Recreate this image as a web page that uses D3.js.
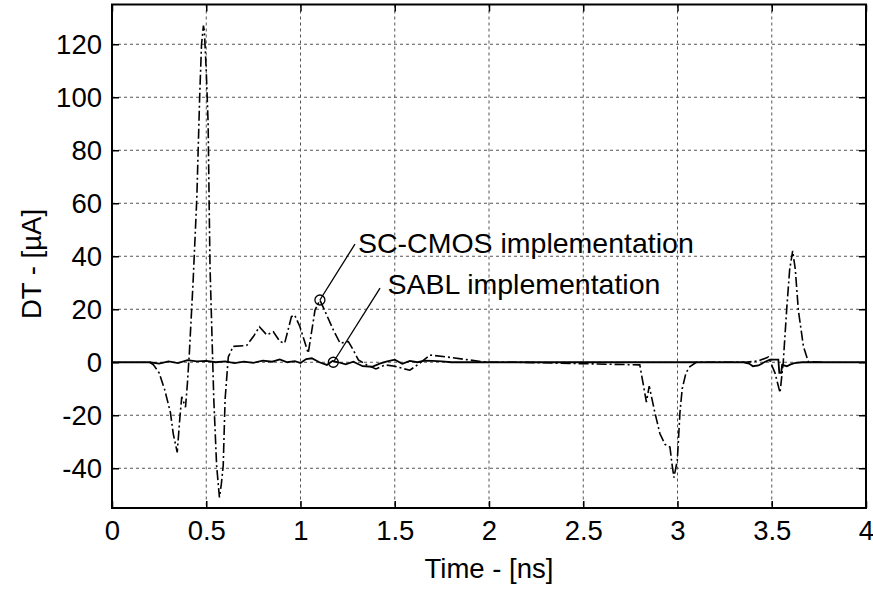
<!DOCTYPE html>
<html>
<head>
<meta charset="utf-8">
<script src="https://cdn.jsdelivr.net/npm/d3@7"></script>
<style>
  body { margin: 0; background: #fff; }
  svg text { font-family: "Liberation Sans", Arial, Helvetica, sans-serif; font-size: 27.5px; fill: #000; }
</style>
</head>
<body>
<svg id="graph" width="873" height="594"></svg>
<script>
// Chart data

var xTicks = [0, 0.5, 1, 1.5, 2, 2.5, 3, 3.5, 4];
var yTicks = [-40, -20, 0, 20, 40, 60, 80, 100, 120];

// SC-CMOS implementation (dash-dot)
var scTime = [0.20, 0.22, 0.25, 0.28, 0.31, 0.325, 0.346, 0.36, 0.37, 0.38, 0.39, 0.40, 0.41, 0.43, 0.45, 0.465, 0.475, 0.485, 0.49, 0.50,
              0.51, 0.515, 0.52, 0.53, 0.54, 0.555, 0.57, 0.58, 0.59, 0.60, 0.617, 0.643, 0.714, 0.75, 0.782, 0.821, 0.856, 0.891, 0.916, 0.952,
              0.969, 0.997, 1.041, 1.077, 1.103, 1.139, 1.174, 1.21, 1.254, 1.28, 1.307, 1.351, 1.40, 1.45, 1.50, 1.55, 1.58, 1.62, 1.687, 1.775,
              1.88, 1.99, 2.15, 2.80, 2.82, 2.835, 2.85, 2.88, 2.907, 2.934, 2.96, 2.97, 2.981, 2.999, 3.013, 3.025, 3.045, 3.066, 3.10, 3.146,
              3.358, 3.43, 3.482, 3.517, 3.544, 3.561, 3.579, 3.595, 3.611, 3.625, 3.641, 3.668, 3.694, 3.765];
var scValue = [0, -1, -4, -10.5, -19, -27, -34, -21, -13, -15, -17, -8, 3, 30, 62, 100, 120, 127, 125, 110,
               90, 62, 36, 11, -14, -39, -51, -46, -39, -14, 2, 6, 6.3, 9.7, 13.4, 10.3, 11.5, 7.8, 7.2, 17.2,
               17.8, 13.4, 3.4, 19.7, 23.5, 17.8, 12.2, 7.2, 7.8, 4.6, 0.9, -1, -2.5, -1, -1.5, -2.5, -3, -1, 2.7, 2,
               1, 0, 0, -1, -9, -15, -9, -19, -27, -31, -32, -38, -43.5, -37, -19, -10, -4, -1.6, 0, 0,
               0, 0.5, 2, -4, -11.5, 0, 19.7, 35, 42, 35, 19.7, 6, 0.2, 0];

// SABL implementation (solid)
var sablTime = [0, 0.2, 0.25, 0.3, 0.35, 0.4, 0.45, 0.5, 0.55, 0.6, 0.65, 0.7, 0.75, 0.8, 0.85, 0.89, 0.93, 0.97, 1.0, 1.03,
                1.06, 1.1, 1.14, 1.17, 1.2, 1.24, 1.28, 1.33, 1.38, 1.42, 1.46, 1.5, 1.54, 1.58, 1.62, 1.66, 1.7, 1.75, 1.8, 2.0,
                3.35, 3.38, 3.40, 3.43, 3.46, 3.49, 3.52, 3.535, 3.54, 3.55, 3.555, 3.58, 3.60, 3.62, 3.66, 4.0];
var sablValue = [0, 0, -0.5, 0.3, -0.3, 0.8, 0.3, 0.5, 0, 0.3, -0.3, 0.2, -0.2, 0.6, 0.2, 1.1, 0, 0.4, -0.3, 1.2,
                 1.5, 0, -1, 0.5, 0, -0.8, 0.2, -1.5, -1.7, -0.5, 0.3, 1, -0.6, 0.5, 0, 0.6, 0.5, 0.3, 0, 0,
                 0, -0.5, -1.5, -1.2, 0, 1, 1, 1, -4, -4, -1, -1.5, -0.8, -0.3, 0, 0];

// Annotations: marked point, end of leader line, label start (data units)
var noteText = ['SC-CMOS implementation', 'SABL implementation'];
var notePoint = [[1.103, 23.5], [1.174, 0]];
var noteLineEnd = [[1.289, 44.6], [1.422, 28]];
var noteLabelAt = [[1.305, 41.2], [1.461, 25.8]];

/*************************************************/

var svg = d3.select('#graph');
var plotL = 112, plotR = 866, plotT = 4.5, plotB = 508;

var xScale = d3.scaleLinear().domain([0, 4]).range([plotL, plotR]);
var yScale = d3.scaleLinear().domain([-55, 135]).range([plotB, plotT]);

// grid
var grid = svg.append('g').attr('class', 'grid')
  .style('stroke', '#555').style('stroke-width', 1).style('stroke-dasharray', '3,3');
xTicks.slice(1, -1).forEach(function(t){
  grid.append('line').attr('x1', xScale(t)).attr('x2', xScale(t)).attr('y1', plotT).attr('y2', plotB);
});
yTicks.forEach(function(v){
  grid.append('line').attr('x1', plotL).attr('x2', plotR).attr('y1', yScale(v)).attr('y2', yScale(v));
});

// axes with inward ticks on all four sides
var fmt = function(d){ return String(d); };
svg.append('g').attr('transform', 'translate(0,' + plotB + ')')
  .call(d3.axisBottom(xScale).tickValues(xTicks).tickSize(-7).tickPadding(12).tickFormat(fmt))
  .call(function(g){ g.select('.domain').remove(); });
svg.append('g').attr('transform', 'translate(0,' + plotT + ')')
  .call(d3.axisTop(xScale).tickValues(xTicks).tickSize(-7).tickFormat(''))
  .call(function(g){ g.select('.domain').remove(); });
svg.append('g').attr('transform', 'translate(' + plotL + ',0)')
  .call(d3.axisLeft(yScale).tickValues(yTicks).tickSize(-7).tickPadding(10).tickFormat(fmt))
  .call(function(g){ g.select('.domain').remove(); });
svg.append('g').attr('transform', 'translate(' + plotR + ',0)')
  .call(d3.axisRight(yScale).tickValues(yTicks).tickSize(-7).tickFormat(''))
  .call(function(g){ g.select('.domain').remove(); });

svg.selectAll('.tick line').style('stroke', '#000').style('stroke-width', 1.5);
svg.selectAll('.tick text').style('font-size', '27.5px').style('font-family', '"Liberation Sans", Arial, sans-serif');

// curves
var lineGen = d3.line().x(function(d){ return xScale(d[0]); }).y(function(d){ return yScale(d[1]); });

var sablData = sablTime.map(function(t, i){ return [t, sablValue[i]]; });
var scData = scTime.map(function(t, i){ return [t, scValue[i]]; });

svg.append('path').attr('d', lineGen(sablData))
  .style('fill', 'none').style('stroke', '#000').style('stroke-width', 1.8);
svg.append('path').attr('d', lineGen(scData))
  .style('fill', 'none').style('stroke', '#000').style('stroke-width', 1.6).style('stroke-dasharray', '10,3,2,3');

// frame
svg.append('rect').attr('x', plotL).attr('y', plotT).attr('width', plotR - plotL).attr('height', plotB - plotT)
  .style('fill', 'none').style('stroke', '#000').style('stroke-width', 2);

// annotations
noteText.forEach(function(txt, i){
  var p = notePoint[i], e = noteLineEnd[i], l = noteLabelAt[i];
  svg.append('line').attr('x1', xScale(p[0])).attr('y1', yScale(p[1])).attr('x2', xScale(e[0])).attr('y2', yScale(e[1]))
    .style('stroke', '#000').style('stroke-width', 1.3);
  svg.append('circle').attr('cx', xScale(p[0])).attr('cy', yScale(p[1])).attr('r', 5)
    .style('fill', 'none').style('stroke', '#000').style('stroke-width', 1.3);
  svg.append('text').attr('x', xScale(l[0])).attr('y', yScale(l[1])).style('font-size', '28.5px').text(txt);
});

// axis titles
svg.append('text').attr('x', (plotL + plotR) / 2).attr('y', 578).style('text-anchor', 'middle').text('Time - [ns]');
svg.append('text').attr('transform', 'translate(41,264) rotate(-90)').style('text-anchor', 'middle').text('DT - [µA]');
</script>
</body>
</html>
